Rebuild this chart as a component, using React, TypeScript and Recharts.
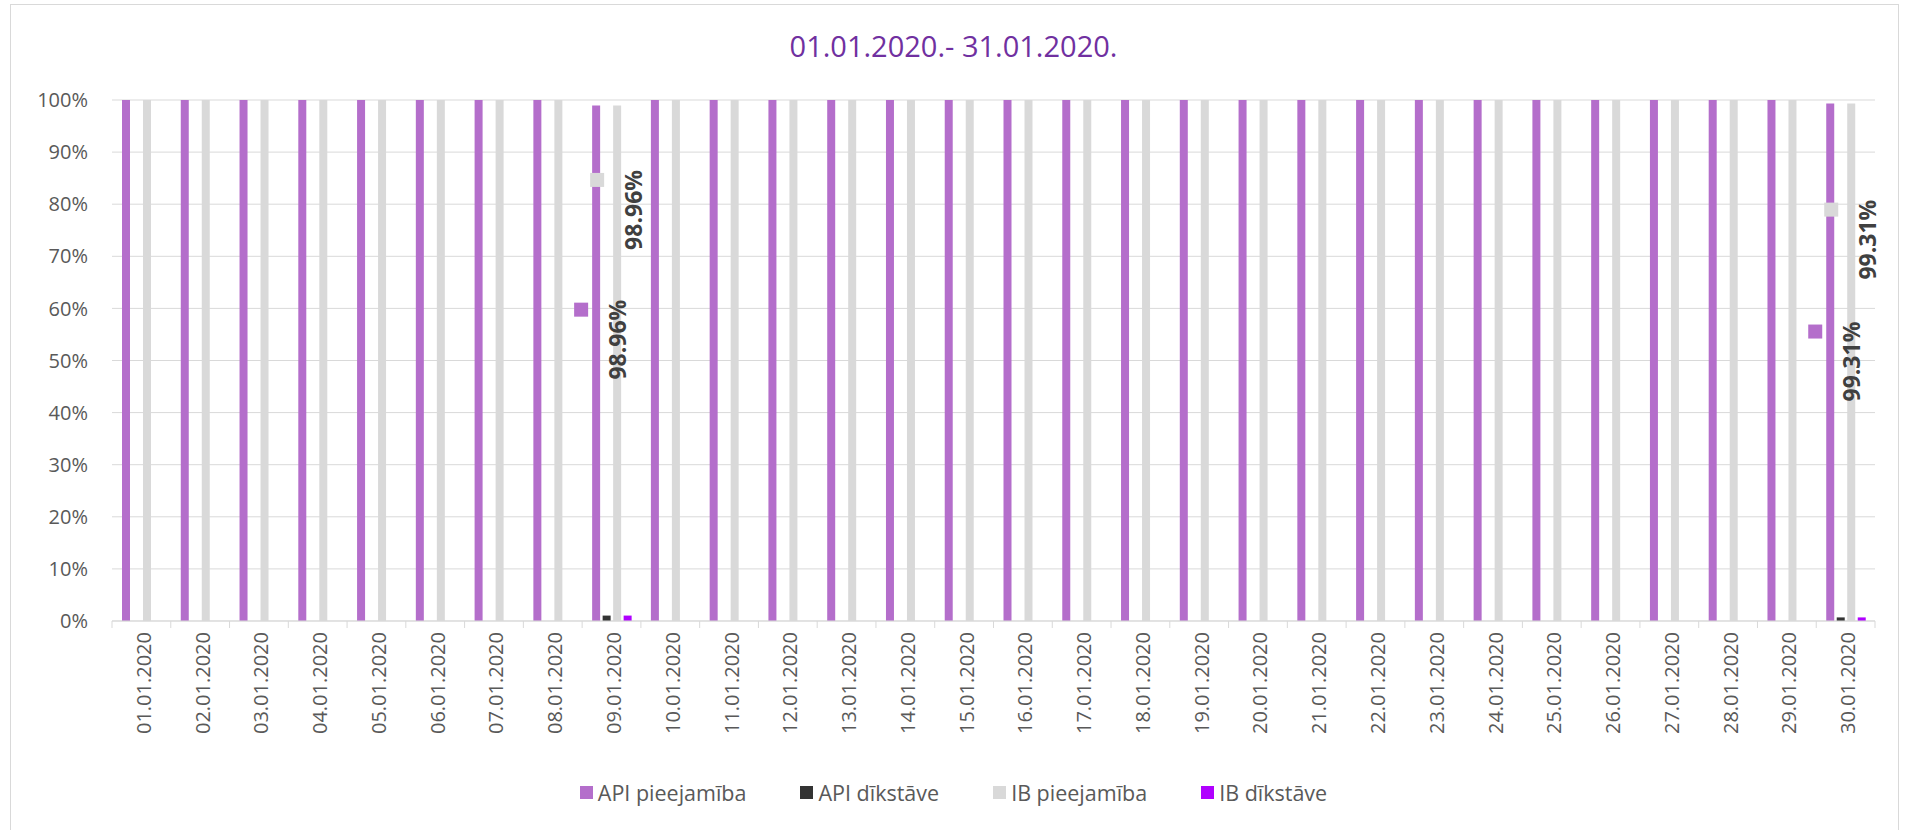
import { BarChart, Bar, XAxis, YAxis, CartesianGrid, Legend, LabelList } from 'recharts';

const dates = [
  '01.01.2020', '02.01.2020', '03.01.2020', '04.01.2020', '05.01.2020',
  '06.01.2020', '07.01.2020', '08.01.2020', '09.01.2020', '10.01.2020',
  '11.01.2020', '12.01.2020', '13.01.2020', '14.01.2020', '15.01.2020',
  '16.01.2020', '17.01.2020', '18.01.2020', '19.01.2020', '20.01.2020',
  '21.01.2020', '22.01.2020', '23.01.2020', '24.01.2020', '25.01.2020',
  '26.01.2020', '27.01.2020', '28.01.2020', '29.01.2020', '30.01.2020',
];

const apiAvailability = [
  100, 100, 100, 100, 100, 100, 100, 100, 98.96, 100,
  100, 100, 100, 100, 100, 100, 100, 100, 100, 100,
  100, 100, 100, 100, 100, 100, 100, 100, 100, 99.31,
];
const apiDowntime = [
  0, 0, 0, 0, 0, 0, 0, 0, 1.04, 0,
  0, 0, 0, 0, 0, 0, 0, 0, 0, 0,
  0, 0, 0, 0, 0, 0, 0, 0, 0, 0.69,
];
const ibAvailability = [
  100, 100, 100, 100, 100, 100, 100, 100, 98.96, 100,
  100, 100, 100, 100, 100, 100, 100, 100, 100, 100,
  100, 100, 100, 100, 100, 100, 100, 100, 100, 99.31,
];
const ibDowntime = [
  0, 0, 0, 0, 0, 0, 0, 0, 1.04, 0,
  0, 0, 0, 0, 0, 0, 0, 0, 0, 0,
  0, 0, 0, 0, 0, 0, 0, 0, 0, 0.69,
];

const yTicks = [0, 10, 20, 30, 40, 50, 60, 70, 80, 90, 100];

const series = [
  { key: 'apiUp', name: 'API pieejamība', color: '#B46ECB' },
  { key: 'apiDown', name: 'API dīkstāve', color: '#333333' },
  { key: 'ibUp', name: 'IB pieejamība', color: '#D9D9D9' },
  { key: 'ibDown', name: 'IB dīkstāve', color: '#B000FF' },
];

const data = dates.map((date, i) => ({
  date,
  apiUp: apiAvailability[i],
  apiDown: apiDowntime[i],
  ibUp: ibAvailability[i],
  ibDown: ibDowntime[i],
}));

// layout
const W = 1907;
const H = 830;
const PLOT_LEFT = 112;
const PLOT_RIGHT = 1875;
const PLOT_TOP = 100;
const PLOT_BOTTOM = 621;
const X_AXIS_H = 150;
const BAR = 8;
const GAP = 2.5;
const PITCH = BAR + GAP;
const BAND = (PLOT_RIGHT - PLOT_LEFT) / dates.length;
const FONT = '"Open Sans", "Noto Sans", sans-serif';

// where the (dragged) data labels sit, in axis percent
const labelSpots: Record<string, Record<number, number>> = {
  apiUp: { 8: 54, 29: 49.8 },
  ibUp: { 8: 78.9, 29: 73.2 },
};

function DateTick(props: any) {
  const { x, y, payload, index } = props;
  return (
    <g>
      <line x1={x - BAND / 2} x2={x - BAND / 2} y1={y} y2={y + 7} stroke="#D9D9D9" />
      {index === dates.length - 1 && (
        <line x1={x + BAND / 2} x2={x + BAND / 2} y1={y} y2={y + 7} stroke="#D9D9D9" />
      )}
      <text
        transform={`translate(${x + 2},${y + 11}) rotate(-90)`}
        textAnchor="end"
        dominantBaseline="central"
        fill="#595959"
        fontSize={20}
        fontFamily={FONT}
      >
        {payload.value}
      </text>
    </g>
  );
}

// labels are attached to the last series so they paint above every bar
function makeLabel(seriesKey: string, barsBack: number, color: string, textDx: number, keyDx: number) {
  return (props: any) => {
    const { x, width, value } = props;
    if (value == null || value >= 100) return null;
    const cx = x + width / 2 - barsBack * PITCH;
    const idx = Math.floor((x - PLOT_LEFT) / BAND);
    const pos = labelSpots[seriesKey][idx] ?? 50;
    const cy = PLOT_BOTTOM - ((PLOT_BOTTOM - PLOT_TOP) * pos) / 100;
    return (
      <g>
        <rect x={cx + keyDx - 7} y={cy - 30 - 7} width={14} height={14} fill={color} />
        <text
          transform={`translate(${cx + textDx},${cy}) rotate(-90)`}
          textAnchor="middle"
          dominantBaseline="central"
          fill="#404040"
          fontSize={23}
          fontWeight={700}
          fontFamily={FONT}
        >
          {value.toFixed(2)}%
        </text>
      </g>
    );
  };
}

function renderLegend() {
  return (
    <div
      style={{
        display: 'flex',
        justifyContent: 'center',
        gap: 54,
        fontFamily: FONT,
        fontSize: 21.5,
        color: '#595959',
      }}
    >
      {series.map((s) => (
        <div key={s.key} style={{ display: 'flex', alignItems: 'center' }}>
          <span style={{ width: 13, height: 13, background: s.color, marginRight: 5, display: 'inline-block' }} />
          <span>{s.name}</span>
        </div>
      ))}
    </div>
  );
}

export default function App() {
  return (
    <div style={{ position: 'absolute', left: 0, top: 0, width: W, height: H, fontFamily: FONT }}>
      <div
        style={{
          position: 'absolute',
          left: 10,
          top: 4,
          width: 1889,
          height: 850,
          border: '1px solid #D9D9D9',
          boxSizing: 'border-box',
          background: '#fff',
        }}
      />
      <div
        style={{
          position: 'absolute',
          left: 0,
          top: 26,
          width: W,
          textAlign: 'center',
          fontSize: 29,
          color: '#7030A0',
          fontFamily: FONT,
        }}
      >
        01.01.2020.- 31.01.2020.
      </div>
      <div style={{ position: 'absolute', left: 0, top: 0 }}>
        <BarChart
          width={W}
          height={H}
          data={data}
          margin={{ top: PLOT_TOP, right: W - PLOT_RIGHT, left: 12, bottom: H - PLOT_BOTTOM - X_AXIS_H }}
          barSize={BAR}
          barGap={GAP}
        >
          <CartesianGrid vertical={false} stroke="#D9D9D9" />
          <XAxis
            dataKey="date"
            interval={0}
            height={X_AXIS_H}
            tickSize={0}
            tickMargin={0}
            tickLine={false}
            axisLine={{ stroke: '#D9D9D9' }}
            tick={<DateTick />}
          />
          <YAxis
            width={100}
            domain={[0, 100]}
            ticks={yTicks}
            tickFormatter={(v) => `${v}%`}
            axisLine={false}
            tickLine={false}
            tickSize={0}
            tickMargin={24}
            tick={{ fill: '#595959', fontSize: 20, fontFamily: FONT }}
          />
          <Legend
            verticalAlign="middle"
            align="center"
            content={renderLegend}
            wrapperStyle={{ top: 778, left: 0, width: W }}
          />
          <Bar dataKey="apiUp" name="API pieejamība" fill="#B46ECB" isAnimationActive={false} />
          <Bar dataKey="apiDown" name="API dīkstāve" fill="#333333" isAnimationActive={false} />
          <Bar dataKey="ibUp" name="IB pieejamība" fill="#D9D9D9" isAnimationActive={false} />
          <Bar dataKey="ibDown" name="IB dīkstāve" fill="#B000FF" isAnimationActive={false}>
            <LabelList dataKey="apiUp" content={makeLabel('apiUp', 3, '#B46ECB', 21, -15)} />
            <LabelList dataKey="ibUp" content={makeLabel('ibUp', 1, '#D9D9D9', 16, -20)} />
          </Bar>
        </BarChart>
      </div>
    </div>
  );
}
